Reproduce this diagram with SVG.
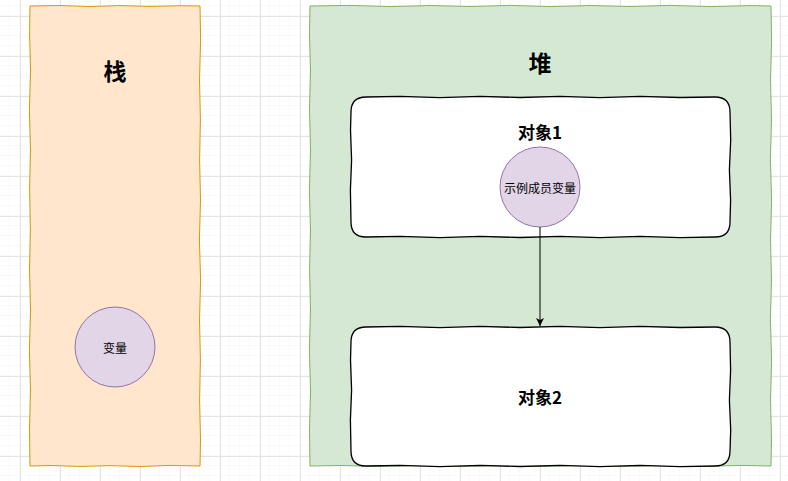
<svg xmlns="http://www.w3.org/2000/svg" width="788" height="481" viewBox="0 0 788 481">
<defs>
<pattern id="minor" width="10" height="10" patternUnits="userSpaceOnUse" x="0" y="6">
<path d="M10 0V10M0 10H10" fill="none" stroke="#f3f3f3" stroke-width="1"/>
</pattern>
<pattern id="major" width="40" height="40" patternUnits="userSpaceOnUse" x="20" y="16">
<path d="M0.5 0V40M0 0.5H40" fill="none" stroke="#e4e4e4" stroke-width="1"/>
</pattern>
<marker id="arr" markerWidth="10" markerHeight="10" refX="8" refY="5" orient="auto" markerUnits="userSpaceOnUse">
<path d="M0 1L8 5L0 9L2 5Z" fill="#000"/>
</marker>
</defs>
<style>
.title{font-family:"Noto Sans CJK SC","Liberation Sans",sans-serif;font-weight:bold;fill:#000;text-anchor:middle;dominant-baseline:central}
.lbl{font-family:"Noto Sans CJK SC","Liberation Sans",sans-serif;fill:#000;text-anchor:middle;dominant-baseline:central;font-size:12px}
.circ{fill:#e1d5e7;stroke:#9673a6;stroke-width:1}
.obj{fill:#fff;stroke:#000;stroke-width:1.3}
</style>
<rect width="788" height="481" fill="#fff"/>
<rect width="788" height="481" fill="url(#minor)"/>
<rect width="788" height="481" fill="url(#major)"/>

<g id="stack">
<path d="M30 6 L60 5.5 L90 6.5 L120 5.6 L150 6.4 L180 5.7 L200 6 L200.6 40 L199.5 80 L200.4 120 L199.6 160 L200.5 200 L199.4 240 L200.6 280 L199.5 320 L200.4 360 L199.6 400 L200.5 440 L200 466 L170 465.4 L140 466.5 L110 465.6 L80 466.4 L50 465.5 L30 466 L29.5 430 L30.5 390 L29.4 350 L30.6 310 L29.5 270 L30.4 230 L29.6 190 L30.5 150 L29.4 110 L30.6 70 L29.6 35 Z" fill="#ffe6cc" stroke="#d79b00" stroke-width="1"/>
<text class="title" x="115" y="70" font-size="23">栈</text>
</g>

<g id="heap">
<path d="M310 6 L350 5.4 L390 6.6 L430 5.5 L470 6.5 L510 5.4 L550 6.6 L590 5.5 L630 6.5 L670 5.4 L710 6.6 L750 5.6 L771 6 L771.6 40 L770.5 80 L771.5 120 L770.4 160 L771.6 200 L770.5 240 L771.5 280 L770.4 320 L771.6 360 L770.5 400 L771.5 440 L771 466 L740 465.4 L700 466.5 L660 465.5 L620 466.6 L580 465.4 L540 466.5 L500 465.5 L460 466.6 L420 465.4 L380 466.5 L340 465.5 L310 466 L309.5 430 L310.6 390 L309.4 350 L310.5 310 L309.6 270 L310.5 230 L309.4 190 L310.6 150 L309.5 110 L310.5 70 L309.5 35 Z" fill="#d5e8d4" stroke="#82b366" stroke-width="1"/>
<text class="title" x="540" y="62" font-size="23">堆</text>
</g>

<g id="obj1">
<path class="obj" d="M366 97 L400 96.3 L440 97.6 L480 96.4 L520 97.5 L560 96.3 L600 97.6 L640 96.4 L680 97.5 L715 97 Q730 97 730 112 L730.7 140 L729.4 170 L730.6 200 L730 222 Q730 237 715 237 L680 237.7 L640 236.4 L600 237.6 L560 236.3 L520 237.5 L480 236.4 L440 237.6 L400 236.3 L366 237 Q351 237 351 222 L350.4 190 L351.6 160 L350.5 130 L351 112 Q351 97 366 97 Z"/>
<text class="title" x="540" y="131" font-size="17">对象1</text>
</g>

<g id="obj2">
<path class="obj" d="M366 327 L400 326.3 L440 327.6 L480 326.4 L520 327.5 L560 326.3 L600 327.6 L640 326.4 L680 327.5 L715 327 Q730 327 730 342 L730.6 370 L729.4 400 L730.7 430 L730 451 Q730 466 715 466 L680 466.6 L640 465.4 L600 466.6 L560 465.3 L520 466.5 L480 465.4 L440 466.6 L400 465.3 L366 466 Q351 466 351 451 L350.4 420 L351.6 390 L350.5 360 L351 342 Q351 327 366 327 Z"/>
<text class="title" x="540" y="396" font-size="17">对象2</text>
</g>

<g id="member">
<circle class="circ" cx="540" cy="187" r="40"/>
<text class="lbl" x="540" y="187">示例成员变量</text>
</g>

<g id="var">
<circle class="circ" cx="115" cy="347" r="40"/>
<text class="lbl" x="115" y="347">变量</text>
</g>

<g id="connectors">
<path d="M540 227 L540 326" fill="none" stroke="#000" stroke-width="1" marker-end="url(#arr)"/>
</g>
</svg>
